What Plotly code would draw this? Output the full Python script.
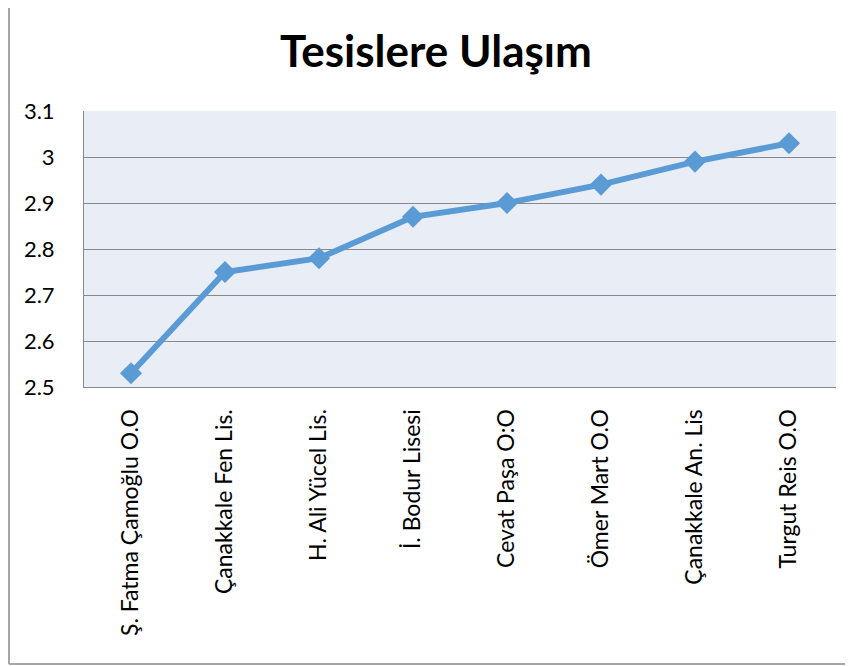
import plotly.graph_objects as go

# data
okullar = [
    "Ş. Fatma Çamoğlu O.O",
    "Çanakkale Fen Lis.",
    "H. Ali Yücel Lis.",
    "İ. Bodur Lisesi",
    "Cevat Paşa O:O",
    "Ömer Mart O.O",
    "Çanakkale An. Lis",
    "Turgut Reis O.O",
]
puanlar = [2.53, 2.75, 2.78, 2.87, 2.90, 2.94, 2.99, 3.03]
y_ticks = [2.5, 2.6, 2.7, 2.8, 2.9, 3.0, 3.1]
y_tick_text = ["2.5", "2.6", "2.7", "2.8", "2.9", "3", "3.1"]

# page body has an 8px margin, so the figure is drawn 8px in/down
W, H = 845, 658
L, R, T, B = 76, 17, 103, 279
pw, ph = W - L - R, H - T - B


def px_x(px):
    return (px - L) / pw


def px_y(py):
    return (T + ph - py) / ph


fig = go.Figure()

fig.add_trace(go.Scatter(
    x=okullar,
    y=puanlar,
    mode="lines+markers",
    line=dict(color="#5B9BD5", width=6),
    marker=dict(symbol="diamond", size=17, color="#5B9BD5"),
    showlegend=False,
))

# outer frame (left + bottom only, like the source image)
fig.add_shape(type="line", xref="paper", yref="paper",
              x0=px_x(1), x1=px_x(1), y0=px_y(656), y1=px_y(0),
              line=dict(color="#A6A6A6", width=2))
fig.add_shape(type="line", xref="paper", yref="paper",
              x0=px_x(1), x1=px_x(W), y0=px_y(656), y1=px_y(656),
              line=dict(color="#A6A6A6", width=2))

fig.update_layout(
    width=W,
    height=H,
    margin=dict(l=L, r=R, t=T, b=B, autoexpand=False),
    paper_bgcolor="white",
    plot_bgcolor="#E9EDF6",
    font=dict(family="Lato", color="black"),
    title=dict(
        text="<b>Tesislere Ulaşım</b>",
        x=428 / W,
        xanchor="center",
        y=1 - 44 / H,
        yanchor="middle",
        font=dict(family="Lato", size=44, color="black"),
    ),
    xaxis=dict(
        type="category",
        range=[-0.5, len(okullar) - 0.5],
        tickangle=-90,
        tickfont=dict(size=23),
        showgrid=False,
        showline=True,
        linecolor="#898989",
        linewidth=1,
        ticks="",
        ticklabelstandoff=12,
    ),
    yaxis=dict(
        range=[2.5, 3.1],
        tickvals=y_ticks,
        ticktext=y_tick_text,
        tickfont=dict(size=22),
        showgrid=True,
        gridcolor="#898989",
        gridwidth=1,
        showline=True,
        linecolor="#898989",
        linewidth=1,
        zeroline=False,
        ticks="",
        ticklabelstandoff=24,
    ),
)

fig.write_html("out.html")
